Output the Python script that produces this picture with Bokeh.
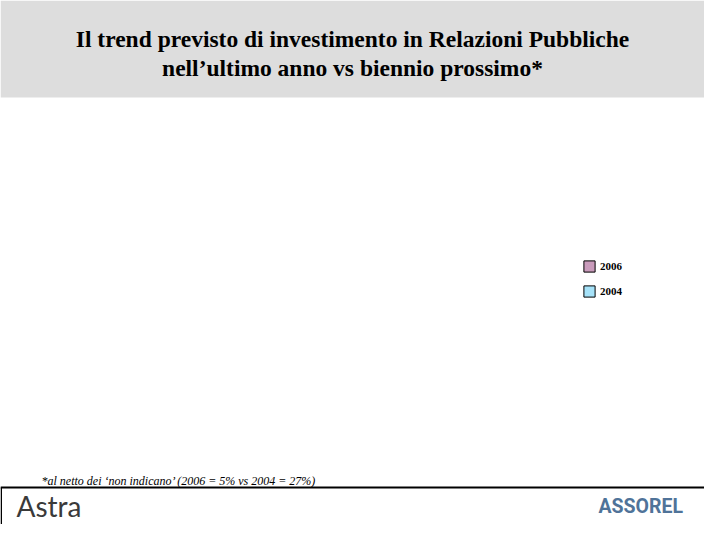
from bokeh.plotting import figure
from bokeh.models import Range1d, Label, BoxAnnotation, Span
from bokeh.embed import file_html
from bokeh.resources import INLINE

# ---- data ----
title_lines = ["Il trend previsto di investimento in Relazioni Pubbliche",
               "nell\u2019ultimo anno vs biennio prossimo*"]
series_labels = ["2006", "2004"]
series_colors = ["#C99BBB", "#A6E2F8"]
categories = ["n/d"]                 # no bars are visible in the reference
values_2006 = [float("nan")]
values_2004 = [float("nan")]
footnote = "*al netto dei  \u2018non indicano\u2019 (2006 = 5% vs 2004 = 27%)"
logo_left = "Astra"
logo_right = "ASSOREL"

W, H = 704, 524
p = figure(width=W, height=H, output_backend="svg", toolbar_location=None,
           x_range=Range1d(0, W), y_range=Range1d(H, 0),
           x_axis_location=None, y_axis_location=None, min_border=0)
p.grid.visible = False
p.outline_line_color = None
p.background_fill_color = "white"
p.border_fill_color = "white"

# grey title band
p.add_layout(BoxAnnotation(left=0, right=W, top=0, bottom=97,
                           fill_color="#DDDDDD", fill_alpha=1, line_alpha=0))
for i, t in enumerate(title_lines):
    p.add_layout(Label(x=W / 2, y=38 + 29.5 * i, text=t, text_align="center",
                       text_baseline="middle", text_font="Liberation Serif",
                       text_font_style="bold", text_font_size="23.5px",
                       text_color="black"))

# series (legend swatches only; values not shown in the reference)
for vals, lab, col in zip([values_2006, values_2004], series_labels, series_colors):
    p.vbar(x=[float("nan")] * len(vals), top=vals, width=0.4, fill_color=col,
           line_color="black", line_width=1, legend_label=lab)

lg = p.legend[0]
lg.location = (582, 226)
lg.background_fill_alpha = 0
lg.border_line_alpha = 0
lg.padding = 0
lg.margin = 0
lg.spacing = 11
lg.glyph_width = 14
lg.glyph_height = 14
lg.label_height = 14
lg.label_standoff = 4
lg.label_text_font = "Liberation Serif"
lg.label_text_font_style = "bold"
lg.label_text_font_size = "11px"
lg.label_text_color = "black"

# footnote
p.add_layout(Label(x=41, y=480, text=footnote, text_baseline="middle",
                   text_font="Liberation Serif", text_font_style="italic",
                   text_font_size="12px", text_color="black"))

# bottom band separator
p.add_layout(Span(location=487, dimension="width", line_color="black", line_width=2))
p.add_layout(BoxAnnotation(left=0, right=1.5, top=487, bottom=H,
                           fill_color="black", fill_alpha=1, line_alpha=0))

# logos
p.add_layout(Label(x=16, y=505, text=logo_left, text_baseline="middle",
                   text_font="Lato", text_font_size="28px", text_color="#3A3A3A"))
p.add_layout(Label(x=598, y=506, text=logo_right, text_baseline="middle",
                   text_font="Roboto", text_font_style="bold",
                   text_font_size="19.5px", text_color="#4F7399"))

open("out.html", "w").write(file_html(p, INLINE))
